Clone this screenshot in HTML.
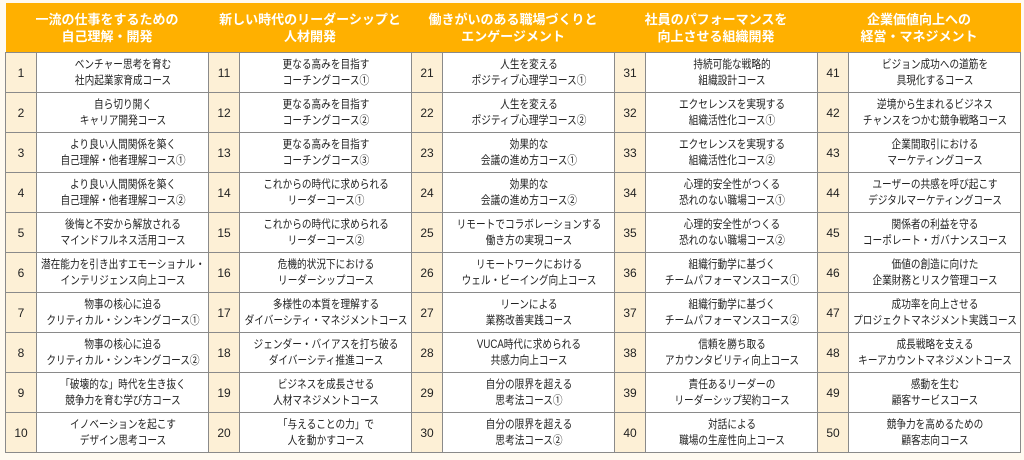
<!DOCTYPE html>
<html><head><meta charset="utf-8"><style>
body{margin:0;width:1024px;height:460px;background:#fffaf0;overflow:hidden;font-family:"Liberation Sans","Noto Sans CJK JP",sans-serif;}
table{position:absolute;left:5px;top:3px;border-collapse:collapse;table-layout:fixed;width:1015px;}
th{background:#ffb000;color:#fff;font-size:13px;font-weight:bold;height:49px;line-height:17px;padding:0;border:none;white-space:nowrap;}
td{border:1px solid #8a8a8a;height:39px;padding:0;text-align:center;font-size:11.5px;line-height:16px;color:#222;background:#fff;white-space:nowrap;overflow:visible;}
td.n{background:#fdf0d6;font-size:12px;}
td div{width:344px;margin-left:-86px;transform:scaleX(0.84);text-align:center;}
</style></head><body>
<table>
<colgroup><col style="width:31px"><col style="width:172px"><col style="width:31px"><col style="width:172px"><col style="width:31px"><col style="width:172px"><col style="width:31px"><col style="width:172px"><col style="width:31px"><col style="width:172px"></colgroup>
<tr><th colspan="2">一流の仕事をするための<br>自己理解・開発</th><th colspan="2">新しい時代のリーダーシップと<br>人材開発</th><th colspan="2">働きがいのある職場づくりと<br>エンゲージメント</th><th colspan="2">社員のパフォーマンスを<br>向上させる組織開発</th><th colspan="2">企業価値向上への<br>経営・マネジメント</th></tr>
<tr><td class="n">1</td><td><div>ベンチャー思考を育む<br>社内起業家育成コース</div></td><td class="n">11</td><td><div>更なる高みを目指す<br>コーチングコース①</div></td><td class="n">21</td><td><div>人生を変える<br>ポジティブ心理学コース①</div></td><td class="n">31</td><td><div>持続可能な戦略的<br>組織設計コース</div></td><td class="n">41</td><td><div>ビジョン成功への道筋を<br>具現化するコース</div></td></tr>
<tr><td class="n">2</td><td><div>自ら切り開く<br>キャリア開発コース</div></td><td class="n">12</td><td><div>更なる高みを目指す<br>コーチングコース②</div></td><td class="n">22</td><td><div>人生を変える<br>ポジティブ心理学コース②</div></td><td class="n">32</td><td><div>エクセレンスを実現する<br>組織活性化コース①</div></td><td class="n">42</td><td><div>逆境から生まれるビジネス<br>チャンスをつかむ競争戦略コース</div></td></tr>
<tr><td class="n">3</td><td><div>より良い人間関係を築く<br>自己理解・他者理解コース①</div></td><td class="n">13</td><td><div>更なる高みを目指す<br>コーチングコース③</div></td><td class="n">23</td><td><div>効果的な<br>会議の進め方コース①</div></td><td class="n">33</td><td><div>エクセレンスを実現する<br>組織活性化コース②</div></td><td class="n">43</td><td><div>企業間取引における<br>マーケティングコース</div></td></tr>
<tr><td class="n">4</td><td><div>より良い人間関係を築く<br>自己理解・他者理解コース②</div></td><td class="n">14</td><td><div>これからの時代に求められる<br>リーダーコース①</div></td><td class="n">24</td><td><div>効果的な<br>会議の進め方コース②</div></td><td class="n">34</td><td><div>心理的安全性がつくる<br>恐れのない職場コース①</div></td><td class="n">44</td><td><div>ユーザーの共感を呼び起こす<br>デジタルマーケティングコース</div></td></tr>
<tr><td class="n">5</td><td><div>後悔と不安から解放される<br>マインドフルネス活用コース</div></td><td class="n">15</td><td><div>これからの時代に求められる<br>リーダーコース②</div></td><td class="n">25</td><td><div>リモートでコラボレーションする<br>働き方の実現コース</div></td><td class="n">35</td><td><div>心理的安全性がつくる<br>恐れのない職場コース②</div></td><td class="n">45</td><td><div>関係者の利益を守る<br>コーポレート・ガバナンスコース</div></td></tr>
<tr><td class="n">6</td><td><div>潜在能力を引き出すエモーショナル・<br>インテリジェンス向上コース</div></td><td class="n">16</td><td><div>危機的状況下における<br>リーダーシップコース</div></td><td class="n">26</td><td><div>リモートワークにおける<br>ウェル・ビーイング向上コース</div></td><td class="n">36</td><td><div>組織行動学に基づく<br>チームパフォーマンスコース①</div></td><td class="n">46</td><td><div>価値の創造に向けた<br>企業財務とリスク管理コース</div></td></tr>
<tr><td class="n">7</td><td><div>物事の核心に迫る<br>クリティカル・シンキングコース①</div></td><td class="n">17</td><td><div>多様性の本質を理解する<br>ダイバーシティ・マネジメントコース</div></td><td class="n">27</td><td><div>リーンによる<br>業務改善実践コース</div></td><td class="n">37</td><td><div>組織行動学に基づく<br>チームパフォーマンスコース②</div></td><td class="n">47</td><td><div>成功率を向上させる<br>プロジェクトマネジメント実践コース</div></td></tr>
<tr><td class="n">8</td><td><div>物事の核心に迫る<br>クリティカル・シンキングコース②</div></td><td class="n">18</td><td><div>ジェンダー・バイアスを打ち破る<br>ダイバーシティ推進コース</div></td><td class="n">28</td><td><div>VUCA時代に求められる<br>共感力向上コース</div></td><td class="n">38</td><td><div>信頼を勝ち取る<br>アカウンタビリティ向上コース</div></td><td class="n">48</td><td><div>成長戦略を支える<br>キーアカウントマネジメントコース</div></td></tr>
<tr><td class="n">9</td><td><div>「破壊的な」時代を生き抜く<br>競争力を育む学び方コース</div></td><td class="n">19</td><td><div>ビジネスを成長させる<br>人材マネジメントコース</div></td><td class="n">29</td><td><div>自分の限界を超える<br>思考法コース①</div></td><td class="n">39</td><td><div>責任あるリーダーの<br>リーダーシップ契約コース</div></td><td class="n">49</td><td><div>感動を生む<br>顧客サービスコース</div></td></tr>
<tr><td class="n">10</td><td><div>イノベーションを起こす<br>デザイン思考コース</div></td><td class="n">20</td><td><div>「与えることの力」で<br>人を動かすコース</div></td><td class="n">30</td><td><div>自分の限界を超える<br>思考法コース②</div></td><td class="n">40</td><td><div>対話による<br>職場の生産性向上コース</div></td><td class="n">50</td><td><div>競争力を高めるための<br>顧客志向コース</div></td></tr>
</table>
</body></html>
